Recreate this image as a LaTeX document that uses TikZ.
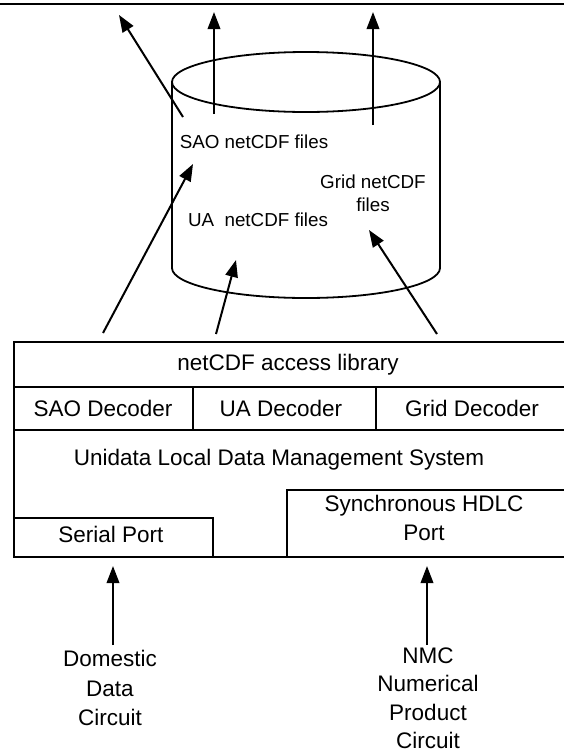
\documentclass[tikz,border=0pt]{standalone}
\usepackage{fontspec}
\setmainfont{Liberation Sans}
\usetikzlibrary{arrows.meta}
\begin{document}
\begin{tikzpicture}[x=1pt,y=-1pt,
  edge/.style={line width=1.8pt},
  arr/.style={line width=2pt,-{Triangle[length=17pt,width=12.5pt]}},
  big/.style={font=\fontsize{22.5}{29.5}\selectfont, inner sep=0pt, align=center},
  bigtight/.style={font=\fontsize{22.5}{28.5}\selectfont, inner sep=0pt, align=center},
  small/.style={font=\fontsize{18.8}{23}\selectfont, inner sep=0pt, align=center}]
\useasboundingbox (0,0) rectangle (564,756);

% top rule
\draw[line width=2.5pt] (0,4) -- (564,4);

% cylinder
\draw[edge] (306,82) ellipse [x radius=134pt, y radius=30pt];
\draw[edge] (172,82) -- (172,268) arc [start angle=180, end angle=360, x radius=134pt, y radius=30pt] -- (440,82);

% cylinder labels
\node[small] (sao) at (254,142) {SAO netCDF files};
\node[small] (ua) at (258,220) {UA~~netCDF files};
\node[small] (grid) at (373,193) {Grid netCDF\\[0pt]files};

% system box
\draw[edge] (566,342) -- (14,342) -- (14,557) -- (566,557);
\draw[edge] (14,387) -- (566,387);
\draw[edge] (14,430) -- (566,430);
\draw[edge] (193,387) -- (193,430);
\draw[edge] (376,387) -- (376,430);
\draw[edge] (14,518) -- (213,518) -- (213,557);
\draw[edge] (566,490) -- (287,490) -- (287,557);

\node[big] (lib) at (288,365) {netCDF access library};
\node[big] (saodec) at (103,408) {SAO Decoder};
\node[big] (uadec) at (281,408) {UA Decoder};
\node[big] (griddec) at (472,408) {Grid Decoder};
\node[big] (ldm) at (279,460) {Unidata Local Data Management System};
\node[big] (serial) at (111,534) {Serial Port};
\node[big] (sync) at (424,518) {Synchronous HDLC\\Port};

\node[big] (dom) at (110,688) {Domestic\\Data\\Circuit};
\node[bigtight] (nmc) at (428,698) {NMC\\Numerical\\Product\\Circuit};

% arrow end points
\coordinate (o1s) at (183,117);
\coordinate (o1e) at (119,15);
\coordinate (o2s) at (214,114);
\coordinate (o2e) at (214,12);
\coordinate (o3s) at (373,125);
\coordinate (o3e) at (373,12);
\coordinate (i1s) at (103,333);
\coordinate (i1e) at (193,164);
\coordinate (i2s) at (216,334);
\coordinate (i2e) at (236,260);
\coordinate (i3s) at (437,334);
\coordinate (i3e) at (369,230);
\coordinate (b1s) at (113,645);
\coordinate (b1e) at (113,566);
\coordinate (b2s) at (427,645);
\coordinate (b2e) at (427,566);

\draw[arr] (o1s) -- (o1e);
\draw[arr] (o2s) -- (o2e);
\draw[arr] (o3s) -- (o3e);
\draw[arr] (i1s) -- (i1e);
\draw[arr] (i2s) -- (i2e);
\draw[arr] (i3s) -- (i3e);
\draw[arr] (b1s) -- (b1e);
\draw[arr] (b2s) -- (b2e);
\end{tikzpicture}
\end{document}
